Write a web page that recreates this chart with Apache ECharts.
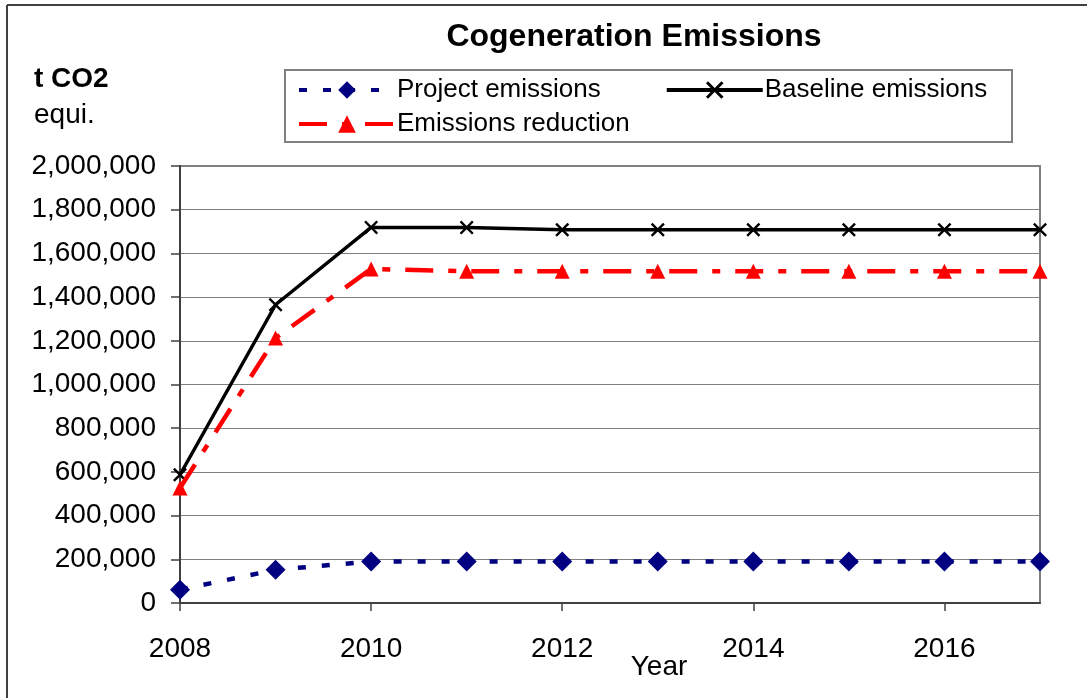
<!DOCTYPE html>
<html>
<head>
<meta charset="utf-8">
<script src="https://cdn.jsdelivr.net/npm/echarts@6/dist/echarts.min.js"></script>
<style>html,body{margin:0;padding:0;background:#fff;}#c{width:1087px;height:698px;}</style>
</head>
<body>
<div id="c"></div>
<script>
const years = ['2008','2009','2010','2011','2012','2013','2014','2015','2016','2017'];
const projectEmissions = [61000, 152000, 190000, 190000, 190000, 190000, 190000, 190000, 190000, 190000];
const baselineEmissions = [587000, 1365000, 1719000, 1718000, 1708000, 1708000, 1708000, 1708000, 1708000, 1708000];
const emissionsReduction = [526000, 1213000, 1529000, 1518000, 1518000, 1518000, 1518000, 1518000, 1518000, 1518000];
const yTicks = { min: 0, max: 2000000, interval: 200000 };

const FONT = '"Liberation Sans", Arial, sans-serif';
const X_PATH = 'path://M0,1.2L1.2,0L5,3.8L8.8,0L10,1.2L6.2,5L10,8.8L8.8,10L5,6.2L1.2,10L0,8.8L3.8,5Z';

const chart = echarts.init(document.getElementById('c'), null, { renderer: 'canvas' });
chart.setOption({
  backgroundColor: '#fff',
  animation: false,
  textStyle: { fontFamily: FONT },
  grid: { left: 180, right: 47, top: 166, height: 437, show: true, borderColor: '#808080', borderWidth: 2, backgroundColor: 'transparent' },
  graphic: [
    { type: 'line', shape: { x1: 7, y1: 5, x2: 1087, y2: 5 }, style: { stroke: '#404040', lineWidth: 2 } },
    { type: 'line', shape: { x1: 7, y1: 5, x2: 7, y2: 698 }, style: { stroke: '#404040', lineWidth: 2 } },
    { type: 'rect', shape: { x: 285, y: 70, width: 727, height: 72 }, style: { fill: 'transparent', stroke: '#808080', lineWidth: 2 }, z: 1 },
    { type: 'text', style: { text: 'Cogeneration Emissions', x: 634, y: 37, fontFamily: FONT, fontSize: 32, fontWeight: 'bold', fill: '#000', textAlign: 'center', textVerticalAlign: 'middle' } },
    { type: 'text', style: { text: 't CO2', x: 34, y: 79, fontFamily: FONT, fontSize: 28, fontWeight: 'bold', fill: '#000', textAlign: 'left', textVerticalAlign: 'middle' } },
    { type: 'text', style: { text: 'equi.', x: 34, y: 115, fontFamily: FONT, fontSize: 28, fill: '#000', textAlign: 'left', textVerticalAlign: 'middle' } },
    { type: 'text', style: { text: 'Year', x: 659, y: 667, fontFamily: FONT, fontSize: 28, fill: '#000', textAlign: 'center', textVerticalAlign: 'middle' } }
  ],
  legend: [
    {
      data: ['Project emissions', 'Baseline emissions'],
      left: 292, top: 72, itemWidth: 96, itemHeight: 22, itemGap: 64,
      lineStyle: { width: 4 },
      textStyle: { fontFamily: FONT, fontSize: 26, color: '#000', padding: [0,0,0,-3] },
      selectedMode: false
    },
    {
      data: ['Emissions reduction'],
      left: 292, top: 106, itemWidth: 96, itemHeight: 22,
      lineStyle: { width: 4 },
      textStyle: { fontFamily: FONT, fontSize: 26, color: '#000', padding: [0,0,0,-3] },
      selectedMode: false
    }
  ],
  xAxis: {
    type: 'category', data: years, boundaryGap: false,
    axisLine: { lineStyle: { color: '#404040', width: 2 } },
    axisTick: { show: true, interval: 1, length: 8, lineStyle: { color: '#404040', width: 1.5 } },
    axisLabel: { interval: 1, margin: 32, fontFamily: FONT, fontSize: 28, color: '#000' },
    splitLine: { show: false }
  },
  yAxis: {
    type: 'value', min: yTicks.min, max: yTicks.max, interval: yTicks.interval,
    axisLine: { show: true, lineStyle: { color: '#404040', width: 2 } },
    axisTick: { show: true, length: 9, lineStyle: { color: '#404040', width: 1.5 } },
    axisLabel: { margin: 24, fontFamily: FONT, fontSize: 28, color: '#000', formatter: v => v.toLocaleString('en-US') },
    splitLine: { show: true, lineStyle: { color: '#808080', width: 1.2 } }
  },
  series: [
    {
      name: 'Project emissions', type: 'line', data: projectEmissions,
      symbol: 'diamond', symbolSize: 20,
      itemStyle: { color: '#000080' },
      lineStyle: { color: '#000080', width: 4.5, type: [8, 16], cap: 'butt' },
      z: 3
    },
    {
      name: 'Baseline emissions', type: 'line', data: baselineEmissions,
      symbol: X_PATH, symbolSize: 14,
      itemStyle: { color: '#000' },
      lineStyle: { color: '#000', width: 3.5, type: 'solid' },
      z: 4
    },
    {
      name: 'Emissions reduction', type: 'line', data: emissionsReduction,
      symbol: 'triangle', symbolSize: 15,
      itemStyle: { color: '#ff0000' },
      lineStyle: { color: '#ff0000', width: 4.5, type: [28, 15, 8, 15], cap: 'butt' },
      z: 5
    }
  ]
});
</script>
</body>
</html>
